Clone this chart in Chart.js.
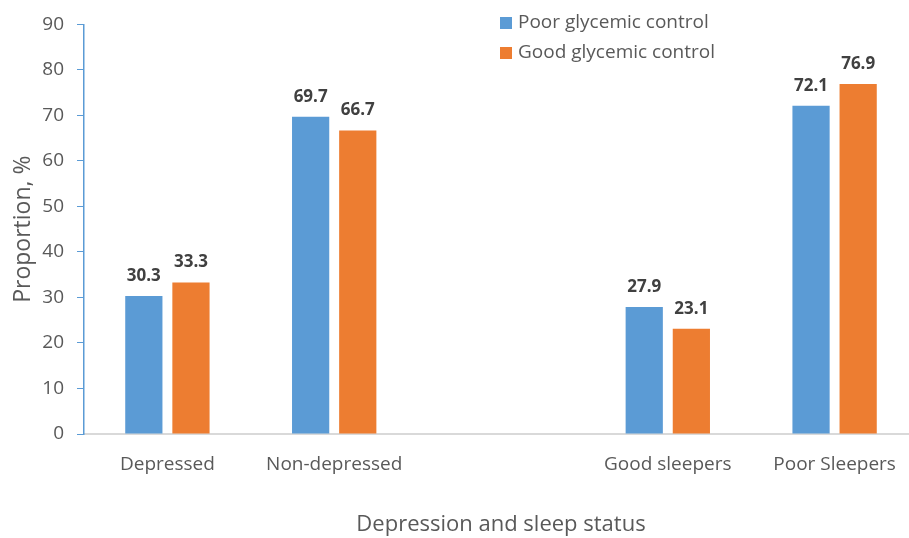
<!DOCTYPE html>
<html>
<head>
<meta charset="utf-8">
<script src="https://cdn.jsdelivr.net/npm/chart.js@4"></script>
<style>
  html, body { margin: 0; padding: 0; background: #fff; overflow: hidden; }
  #wrap { width: 920px; height: 538px; }
</style>
</head>
<body>
<div id="wrap"><canvas id="sleep-chart" width="920" height="538"></canvas></div>
<script>
// Categorias (a terceira fica vazia para separar os dois grupos)
const categorias = ['Depressed', 'Non-depressed', '', 'Good sleepers', 'Poor Sleepers'];
const controleRuim = [30.3, 69.7, null, 27.9, 72.1];
const controleBom = [33.3, 66.7, null, 23.1, 76.9];
const ticksY = [0, 10, 20, 30, 40, 50, 60, 70, 80, 90];

const AZUL = '#5b9bd5';
const LARANJA = '#ed7d31';
const FONTE = '"Open Sans", sans-serif';

// Rótulos de valor acima das barras
const rotulosBarras = {
    id: 'rotulosBarras',
    afterDatasetsDraw(chart) {
        const ctx = chart.ctx;
        ctx.save();
        ctx.font = 'bold 17px ' + FONTE;
        ctx.fillStyle = '#404040';
        ctx.textAlign = 'center';
        ctx.textBaseline = 'alphabetic';
        chart.data.datasets.forEach((ds, i) => {
            chart.getDatasetMeta(i).data.forEach((bar, j) => {
                const v = ds.data[j];
                if (v == null) return;
                ctx.fillText(v.toFixed(1), bar.x, bar.y - 15);
            });
        });
        ctx.restore();
    }
};

// Legenda desenhada à mão no canto superior
const legendaManual = {
    id: 'legendaManual',
    afterDraw(chart) {
        const ctx = chart.ctx;
        ctx.save();
        ctx.font = '19px ' + FONTE;
        ctx.textBaseline = 'middle';
        chart.data.datasets.forEach((ds, i) => {
            const y = 23 + i * 30;
            ctx.fillStyle = ds.backgroundColor;
            ctx.fillRect(500, y - 6, 12, 12);
            ctx.fillStyle = '#595959';
            ctx.fillText(ds.label, 518, y);
        });
        ctx.restore();
    }
};

new Chart(document.getElementById('sleep-chart'), {
    type: 'bar',
    data: {
        labels: categorias,
        datasets: [
            {
                label: 'Poor glycemic control',
                data: controleRuim,
                backgroundColor: AZUL,
                borderWidth: 0
            },
            {
                label: 'Good glycemic control',
                data: controleBom,
                backgroundColor: LARANJA,
                borderWidth: 0
            }
        ]
    },
    options: {
        responsive: false,
        animation: false,
        layout: { padding: { top: 24, right: 2, left: 0, bottom: 0 } },
        datasets: {
            bar: { categoryPercentage: 0.565, barPercentage: 0.79 }
        },
        plugins: {
            legend: { display: false },
            tooltip: { enabled: false }
        },
        scales: {
            x: {
                grid: { display: false, drawTicks: false },
                border: { color: '#d9d9d9', width: 2 },
                ticks: { color: '#595959', font: { family: FONTE, size: 19 }, padding: 19 },
                title: {
                    display: true,
                    text: 'Depression and sleep status',
                    color: '#595959',
                    font: { family: FONTE, size: 22 },
                    padding: { top: 33, bottom: 0 }
                },
                afterFit(scale) { scale.height = 104; }
            },
            y: {
                min: 0,
                max: 90,
                afterBuildTicks(scale) { scale.ticks = ticksY.map(v => ({ value: v })); },
                grid: { drawOnChartArea: false, color: AZUL, tickLength: 7 },
                border: { color: AZUL, width: 1.5 },
                ticks: { color: '#595959', font: { family: FONTE, size: 19 }, padding: 13 },
                title: {
                    display: true,
                    text: 'Proportion, %',
                    color: '#595959',
                    font: { family: FONTE, size: 23 },
                    padding: { top: 10, bottom: 4 }
                },
                afterFit(scale) { scale.width = 84; }
            }
        }
    },
    plugins: [rotulosBarras, legendaManual]
});
</script>
</body>
</html>
